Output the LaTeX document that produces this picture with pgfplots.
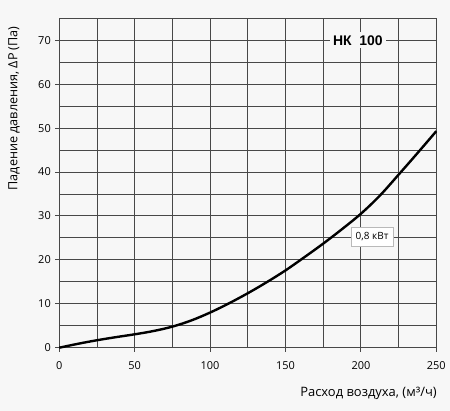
\documentclass[border=0pt]{standalone}
\usepackage{pgfplots}
\pgfplotsset{compat=1.18}
\usepackage{fontspec}
\setmainfont{Open Sans}
\newfontfamily\titlefont{Liberation Sans}
\definecolor{bg}{HTML}{F7F7F7}
\definecolor{gridc}{HTML}{484848}
\begin{document}
\begin{tikzpicture}
\fill[bg] (-59.3bp,-63.3bp) rectangle (390.7bp,347.7bp);
\begin{axis}[
  at={(0,0)}, anchor=south west,
  scale only axis, width=377bp, height=329.4bp,
  xmin=0, xmax=250, ymin=0, ymax=75,
  xtick={0,50,...,250}, minor xtick={25,75,...,225},
  ytick={0,10,...,70}, minor ytick={5,15,...,75},
  grid=both,
  major grid style={gridc, line width=0.9bp},
  minor grid style={gridc, line width=0.9bp},
  axis line style={gridc, line width=0.9bp},
  tick align=outside, major tick length=4bp, minor tick length=0pt,
  tick style={gridc, line width=0.9bp},
  xtick pos=bottom, ytick pos=left,
  /pgf/number format/assume math mode=true,
  tick label style={font=\fontsize{11}{13}\selectfont, black},
  xticklabel style={yshift=-6bp},
  yticklabel style={xshift=-1bp},
  clip=false,
]
\addplot[black, line width=2.4bp, smooth, tension=0.55] coordinates {
(0,0) (12.5,0.9) (25,1.7) (37.5,2.4) (50,3.05) (62.5,3.8) (75,4.8) (87.5,6.2) (100,8.0) (112.5,10.1) (125,12.4) (137.5,14.9) (150,17.6) (162.5,20.6) (175,23.7) (187.5,27.0) (200,30.5) (212.5,34.6) (225,39.4) (237.5,44.3) (250,49.3)
};
\node[fill=bg, inner sep=3bp, font=\titlefont\bfseries\fontsize{14}{16}\selectfont] at (axis cs:198,70) {НК\ \ 100};
\node[fill=white, draw={gray!55}, line width=0.7bp, minimum width=42bp, minimum height=19bp, inner sep=2bp, font=\fontsize{10}{12}\selectfont] at (axis cs:207.4,25.2) {0,8 кВт};
\node[rotate=90, font=\fontsize{12.7}{15}\selectfont] at ([xshift=-45.3bp]axis cs:0,54.5) {Падение давления, ΔP (Па)};
\node[anchor=east, font=\fontsize{13}{15}\selectfont] at ([xshift=4bp,yshift=-45.5bp]axis cs:250,0) {Расход воздуха, (м³/ч)};
\end{axis}
\end{tikzpicture}
\end{document}
